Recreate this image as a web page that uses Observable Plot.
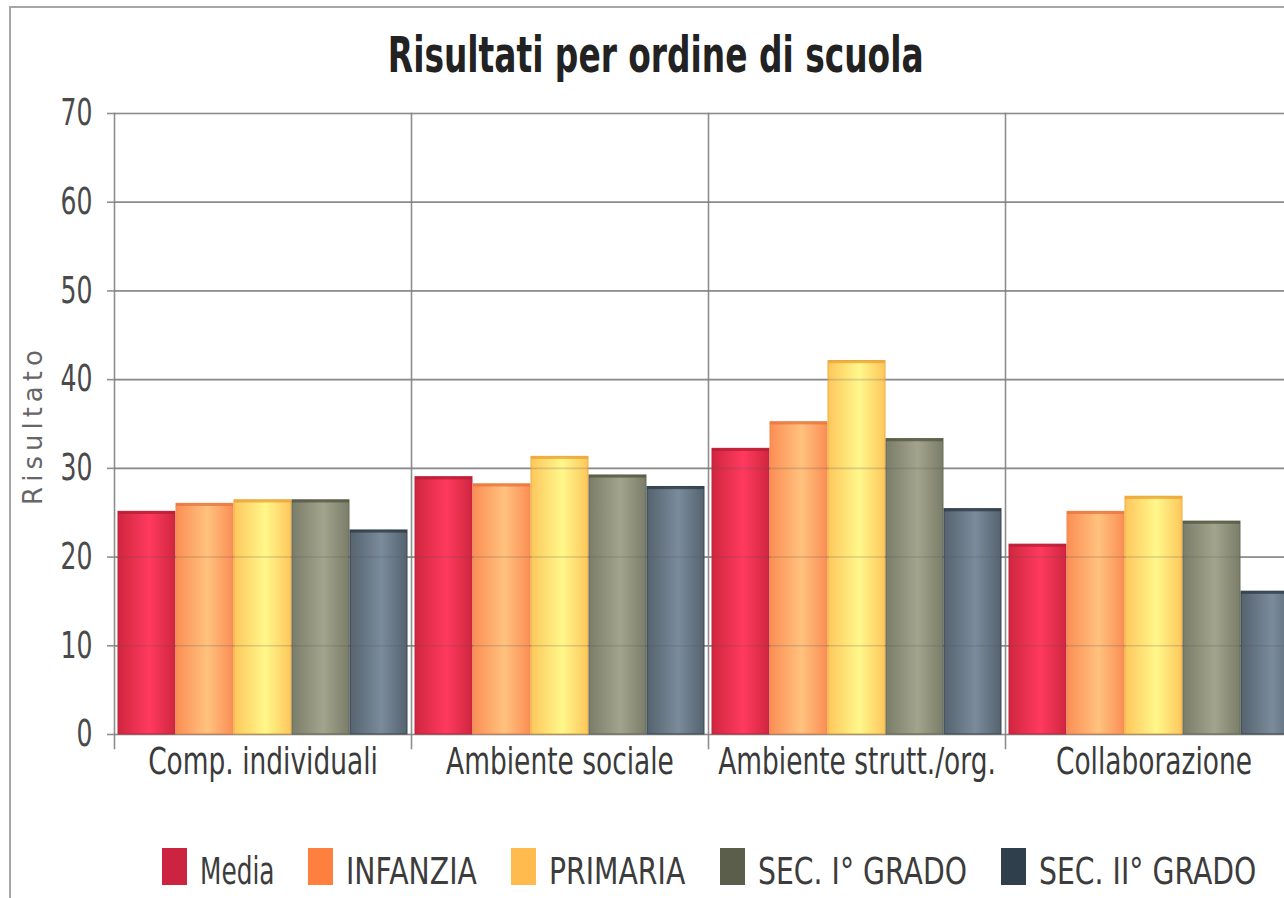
<!DOCTYPE html>
<html>
<head>
<meta charset="utf-8">
<script src="https://cdn.jsdelivr.net/npm/d3@7"></script>
<script src="https://cdn.jsdelivr.net/npm/@observablehq/plot@0.6"></script>
<style>
html, body { margin: 0; padding: 0; background: #fff; overflow: hidden; width: 1284px; height: 898px; }
#frame { position: absolute; left: 9px; top: 6px; width: 1380px; height: 960px; border: 2px solid #a6a6a6; box-sizing: border-box; }
#chart { position: absolute; left: 0; top: 0; width: 1330px; }
#title { height: 100px; box-sizing: border-box; padding-top: 30px; width: 1312px; text-align: center;
  font: bold 50px/50px "DejaVu Sans", sans-serif; color: #222; }
#title span { display: inline-block; transform: scaleX(0.657); transform-origin: center; white-space: nowrap; }
#legend { position: absolute; left: 162px; top: 848px; display: flex; align-items: center; white-space: nowrap; }
.item { display: flex; align-items: center; margin-right: 34px; }
.sw { width: 25px; height: 37px; }
.lab { display: inline-block; margin-left: 13px; font: 37px/37px "DejaVu Sans", sans-serif; color: #3c3c3c;
  transform-origin: left center; position: relative; top: 5px; }
</style>
</head>
<body>
<div id="frame"></div>
<div id="chart">
  <div id="title"><span>Risultati per ordine di scuola</span></div>
  <div id="plot"></div>
</div>
<div id="legend"></div>
<script>
const categories = ["Comp. individuali", "Ambiente sociale", "Ambiente strutt./org.", "Collaborazione"];
const series = ["Media", "INFANZIA", "PRIMARIA", "SEC. I° GRADO", "SEC. II° GRADO"];
const media    = [25.1, 29.0, 32.2, 21.4];
const infanzia = [26.0, 28.2, 35.2, 25.1];
const primaria = [26.4, 31.3, 42.1, 26.8];
const secI     = [26.4, 29.2, 33.3, 24.0];
const secII    = [23.0, 27.9, 25.4, 16.1];
const yTicks = [0, 10, 20, 30, 40, 50, 60, 70];

const legendColors = ["#cc2340", "#ff7f3f", "#ffbb4d", "#5b5e4a", "#2f3f4c"];
const gradEdge   = ["#d0263f", "#fb8e55", "#fdc75c", "#7a7d69", "#56636f"];
const gradCenter = ["#ff3a5f", "#ffc27e", "#fff78b", "#a3a48c", "#7a8b9b"];
const strokeCol  = ["#c2223c", "#f08a4c", "#f0ad3c", "#6a6c58", "#3a4853"];
const rimCol     = ["#b81c36", "#e8743c", "#eaa232", "#53553f", "#2d3a45"];

const valuesBySeries = [media, infanzia, primaria, secI, secII];
const data = [];
series.forEach((s, si) => categories.forEach((c, ci) => data.push({category: c, series: s, si, value: valuesBySeries[si][ci]})));

const SX_Y = 0.68;
const SX_FX = 0.715;

const marks = [
  Plot.ruleY(yTicks, {stroke: "#9a9a9a", strokeWidth: 1.7}),
  Plot.frame({anchor: "left", stroke: "#8e8e8e", strokeWidth: 1.6, insetBottom: -14})
];
series.forEach((s, si) => {
  const d = data.filter(r => r.si === si);
  marks.push(Plot.barY(d, {fx: "category", x: "series", y: "value", fill: `url(#g${si})`, stroke: strokeCol[si], strokeWidth: 1}));
  marks.push(Plot.barY(d, {fx: "category", x: "series", y1: r => r.value - 0.3, y2: "value", fill: rimCol[si], fillOpacity: 0.75}));
});
marks.push(Plot.ruleY(yTicks, {stroke: "#555", strokeOpacity: 0.22, strokeWidth: 1.6}));
marks.push(Plot.axisY({ticks: yTicks, tickSize: 7, tickPadding: 15, fill: "#4a4a4a", stroke: "#8e8e8e", strokeWidth: 1.6, label: null}));
marks.push(Plot.axisFx({anchor: "bottom", tickSize: 0, tickPadding: 13, fill: "#3a3a3a", label: null}));

const svg = Plot.plot({
  width: 1330,
  height: 700,
  marginTop: 13,
  marginBottom: 66,
  marginLeft: 113,
  marginRight: 28,
  style: {fontFamily: "DejaVu Sans, sans-serif", fontSize: "37px", overflow: "visible", background: "transparent"},
  fx: {domain: categories, padding: 0},
  x: {domain: series, paddingInner: 0.02, paddingOuter: 0.05, axis: null},
  y: {domain: [0, 70]},
  marks
});

// gradients
const ns = "http://www.w3.org/2000/svg";
const defs = document.createElementNS(ns, "defs");
series.forEach((s, si) => {
  const g = document.createElementNS(ns, "linearGradient");
  g.setAttribute("id", `g${si}`);
  g.setAttribute("x1", "0"); g.setAttribute("x2", "1"); g.setAttribute("y1", "0"); g.setAttribute("y2", "0");
  [[0, gradEdge[si]], [0.55, gradCenter[si]], [1, gradEdge[si]]].forEach(([o, c]) => {
    const st = document.createElementNS(ns, "stop");
    st.setAttribute("offset", o); st.setAttribute("stop-color", c);
    g.appendChild(st);
  });
  defs.appendChild(g);
});
svg.insertBefore(defs, svg.firstChild);

document.getElementById("plot").appendChild(svg);

// squeeze axis text horizontally
function squeeze(sel, s) {
  svg.querySelectorAll(sel).forEach(t => {
    const tr = t.getAttribute("transform");
    if (tr) t.setAttribute("transform", tr + ` scale(${s},1)`);
    else {
      const x = +t.getAttribute("x") || 0;
      t.setAttribute("transform", `translate(${x},0) scale(${s},1) translate(${-x},0)`);
    }
  });
}
squeeze('g[aria-label="y-axis tick label"] text', SX_Y);
squeeze('g[aria-label="fx-axis tick label"] text', SX_FX);

// y-axis title
d3.select(svg).append("text")
  .attr("transform", "translate(42,325) rotate(-90)")
  .attr("text-anchor", "middle")
  .attr("fill", "#666")
  .style("font-size", "26px")
  .style("letter-spacing", "5px")
  .text("Risultato");

// legend
const legend = document.getElementById("legend");
series.forEach((s, si) => {
  const item = document.createElement("div");
  item.className = "item";
  const sw = document.createElement("div");
  sw.className = "sw";
  sw.style.background = legendColors[si];
  const lab = document.createElement("span");
  lab.className = "lab";
  lab.textContent = s;
  item.appendChild(sw); item.appendChild(lab);
  legend.appendChild(item);
  const sx = s === s.toUpperCase() ? 0.765 : 0.67;
  const w = lab.getBoundingClientRect().width;
  lab.style.width = (w * sx) + "px";
  lab.style.transform = `scaleX(${sx})`;
});
</script>
</body>
</html>
